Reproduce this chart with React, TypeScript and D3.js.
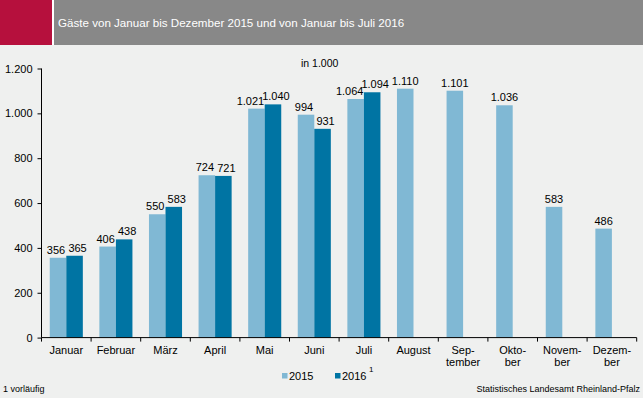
import React, { useEffect, useRef } from 'react';
import * as d3 from 'd3';

const MONTHS = ['Januar', 'Februar', 'März', 'April', 'Mai', 'Juni', 'Juli', 'August', 'Sep-|tember', 'Okto-|ber', 'Novem-|ber', 'Dezem-|ber'];
const GUESTS_2015 = [356, 406, 550, 724, 1021, 994, 1064, 1110, 1101, 1036, 583, 486];
const GUESTS_2016 = [365, 438, 583, 721, 1040, 931, 1094];
const Y_TICKS = [0, 200, 400, 600, 800, 1000, 1200];
const SERIES = ['2015', '2016'];

const COLORS: Record<string, string> = { '2015': '#80b8d4', '2016': '#0074a3' };
const BG = '#eff0ef';
const FONT = "'Liberation Sans', Arial, sans-serif";

const fmt = (v: number) => (v >= 1000 ? d3.format(',')(v).replace(',', '.') : String(v));

export default function App() {
  const svgRef = useRef<SVGSVGElement>(null);

  useEffect(() => {
    if (!svgRef.current) return;
    const width = 643;
    const height = 398;

    const svg = d3.select(svgRef.current);
    svg.selectAll('*').remove();

    svg.append('rect').attr('width', width).attr('height', height).attr('fill', BG);

    // header band
    svg.append('rect').attr('x', 0).attr('y', 0).attr('width', 52).attr('height', 45).attr('fill', '#b6103d');
    svg.append('rect').attr('x', 52).attr('y', 0).attr('width', 2).attr('height', 45).attr('fill', '#ffffff');
    svg.append('rect').attr('x', 54).attr('y', 0).attr('width', width - 54).attr('height', 45).attr('fill', '#888888');
    svg.append('text')
      .attr('x', 58).attr('y', 26.5)
      .text('Gäste von Januar bis Dezember 2015 und von Januar bis Juli 2016')
      .style('font-family', FONT).style('font-size', '11.6px').style('fill', '#ffffff');

    const x = d3.scaleBand<string>().domain(MONTHS).range([41.5, 636.7]);
    const xs = d3.scaleBand<string>().domain(SERIES).range([0, x.bandwidth()]).paddingOuter(0.5);
    const y = d3.scaleLinear().domain([0, 1200]).range([337.6, 68.5]);

    const rows = MONTHS.map((m, i) => ({
      month: m,
      values: [
        { key: '2015', value: GUESTS_2015[i] },
        ...(GUESTS_2016[i] !== undefined ? [{ key: '2016', value: GUESTS_2016[i] }] : []),
      ],
    }));

    const groups = svg.selectAll('.grp')
      .data(rows)
      .enter()
      .append('g')
      .attr('class', 'grp')
      .attr('transform', d => `translate(${x(d.month)},0)`);

    groups.selectAll('rect')
      .data(d => d.values)
      .enter()
      .append('rect')
      .attr('x', d => xs(d.key)!)
      .attr('y', d => y(d.value))
      .attr('width', xs.bandwidth())
      .attr('height', d => y(0) - y(d.value))
      .attr('fill', d => COLORS[d.key]);

    groups.selectAll('.val')
      .data(d => d.values.map(v => ({ ...v, pair: d.values.length > 1 })))
      .enter()
      .append('text')
      .attr('class', 'val')
      .attr('x', d => {
        const c = xs(d.key)! + xs.bandwidth() / 2;
        if (!d.pair) return c;
        if (d.key === '2015') return c - (d.value >= 1000 ? 6 : 2);
        return c + 3;
      })
      .attr('y', d => y(d.value) - 4)
      .attr('text-anchor', 'middle')
      .text(d => fmt(d.value))
      .style('font-family', FONT).style('font-size', '11px').style('fill', '#000');

    // y axis
    const yAxis = svg.append('g')
      .attr('transform', 'translate(41.5,0)')
      .call(d3.axisLeft(y).tickValues(Y_TICKS).tickSize(4).tickPadding(5).tickFormat(d => fmt(+d)));
    yAxis.select('.domain').attr('stroke', '#000').attr('d', `M0,${y(1200)}V${y(0)}`);
    yAxis.selectAll('.tick line').attr('stroke', '#000');
    yAxis.selectAll('text')
      .style('font-family', FONT).style('font-size', '11px').style('fill', '#000');

    // x axis
    const xAxis = svg.append('g').attr('transform', `translate(0,${y(0)})`);
    xAxis.append('line')
      .attr('x1', 41.5).attr('x2', 636.7).attr('y1', 0).attr('y2', 0)
      .attr('stroke', '#000');
    xAxis.selectAll('.xt')
      .data(d3.range(MONTHS.length + 1))
      .enter()
      .append('line')
      .attr('x1', i => 41.5 + i * x.step()).attr('x2', i => 41.5 + i * x.step())
      .attr('y1', 0).attr('y2', 4)
      .attr('stroke', '#000');

    const xl = svg.selectAll('.xl')
      .data(MONTHS)
      .enter()
      .append('text')
      .attr('class', 'xl')
      .attr('text-anchor', 'middle')
      .style('font-family', FONT).style('font-size', '11px').style('fill', '#000');
    xl.selectAll('tspan')
      .data(m => m.split('|').map((t, j) => ({ t, j, m })))
      .enter()
      .append('tspan')
      .attr('x', d => x(d.m)! + x.bandwidth() / 2)
      .attr('y', d => 353.5 + d.j * 12.7)
      .text(d => d.t);

    // unit
    svg.append('text')
      .attr('x', 301).attr('y', 66.5)
      .text('in 1.000')
      .style('font-family', FONT).style('font-size', '10.5px').style('fill', '#000');

    // legend
    const legend = [
      { key: '2015', x: 282 },
      { key: '2016', x: 335 },
    ];
    legend.forEach(l => {
      svg.append('rect').attr('x', l.x).attr('y', 373).attr('width', 5.5).attr('height', 5.5).attr('fill', COLORS[l.key]);
      svg.append('text').attr('x', l.x + 7).attr('y', 379.5).text(l.key)
        .style('font-family', FONT).style('font-size', '11px').style('fill', '#000');
    });
    svg.append('text').attr('x', 369).attr('y', 372).text('1')
      .style('font-family', FONT).style('font-size', '8px').style('fill', '#000');

    // footer
    svg.append('text').attr('x', 3).attr('y', 391.5).text('1 vorläufig')
      .style('font-family', FONT).style('font-size', '9px').style('fill', '#000');
    svg.append('text').attr('x', 640).attr('y', 391.5).attr('text-anchor', 'end')
      .text('Statistisches Landesamt Rheinland-Pfalz')
      .style('font-family', FONT).style('font-size', '9px').style('fill', '#000');
  }, []);

  return (
    <svg
      ref={svgRef}
      width={643}
      height={398}
      viewBox="0 0 643 398"
      style={{ position: 'absolute', left: 0, top: 0, display: 'block' }}
    />
  );
}
